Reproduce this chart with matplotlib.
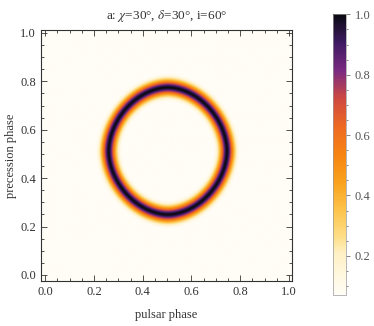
import numpy as np
import matplotlib
matplotlib.use("Agg")
import matplotlib.pyplot as plt
from matplotlib.colors import LinearSegmentedColormap
from matplotlib.ticker import MultipleLocator

plt.rcParams["font.family"] = ["Liberation Serif", "DejaVu Serif"]
plt.rcParams["mathtext.fontset"] = "stix"

# ring (data units: pulsar phase, precession phase)
ring_center = [0.502, 0.510]
ring_semi = [0.243, 0.262]   # half width, half height of the dark ridge
ring_shape = 1.85            # superellipse exponent
ring_sigma = 0.031           # width of the ridge
ring_power = 1.7             # shape of the ridge profile

# colour scale
cb_vals = [0.0, 0.15, 0.2, 0.3, 0.4, 0.5, 0.6, 0.7, 0.8, 0.9, 1.0]
cb_cols = ["#fffdf6", "#fff0c4", "#fee08c", "#fdc44c", "#f9a21e", "#f78412",
           "#ee6a22", "#cf4940", "#7a2a82", "#3e1a62", "#0a0a12"]
vmin, vmax = 0.07, 1.0

cmap = LinearSegmentedColormap.from_list("sunset", list(zip(cb_vals, cb_cols)))

# grid over pulsar phase / precession phase
ph = np.linspace(-0.02, 1.02, 500)
pr = np.linspace(-0.03, 1.02, 500)
PH, PR = np.meshgrid(ph, pr)
u = np.abs(PH - ring_center[0]) / ring_semi[0]
v = np.abs(PR - ring_center[1]) / ring_semi[1]
r = (u ** ring_shape + v ** ring_shape) ** (1 / ring_shape)
dist = (r - 1) * 0.5 * (ring_semi[0] + ring_semi[1])
inten = np.exp(-np.abs(dist / ring_sigma) ** ring_power)

fig = plt.figure(figsize=(3.74, 3.26), dpi=100)
ax = fig.add_axes([0.109, 0.138, 0.671, 0.770])
im = ax.imshow(inten, origin="lower", extent=[ph[0], ph[-1], pr[0], pr[-1]],
               cmap=cmap, vmin=vmin, vmax=vmax, aspect="auto",
               interpolation="bilinear")
ax.set_xlim(-0.018, 1.011)
ax.set_ylim(-0.025, 1.012)

ax.xaxis.set_major_locator(MultipleLocator(0.2))
ax.yaxis.set_major_locator(MultipleLocator(0.2))
ax.xaxis.set_minor_locator(MultipleLocator(0.05))
ax.yaxis.set_minor_locator(MultipleLocator(0.05))
ax.tick_params(which="both", direction="in", top=True, right=True,
               labelsize=9, colors="#333333", width=0.6)
ax.tick_params(which="major", length=4)
ax.tick_params(which="minor", length=2)
for s in ax.spines.values():
    s.set_linewidth(0.8)
    s.set_color("#333333")

ax.set_title(r"a: $\chi$=30°, $\delta$=30°, i=60°", fontsize=9.5, color="#333333", pad=8)
ax.set_xlabel("pulsar phase", fontsize=9, color="#333333", labelpad=8)
ax.set_ylabel("precession phase", fontsize=9, color="#333333", labelpad=2)

cax = fig.add_axes([0.890, 0.095, 0.035, 0.861])
cb = fig.colorbar(im, cax=cax)
cb.set_ticks([0.2, 0.4, 0.6, 0.8, 1.0])
cb.ax.yaxis.set_minor_locator(MultipleLocator(0.05))
cb.ax.tick_params(which="both", direction="out", labelsize=9, colors="#555555", width=0.5)
cb.ax.tick_params(which="major", length=3)
cb.ax.tick_params(which="minor", length=1.5)
cb.outline.set_linewidth(0.5)
cb.outline.set_edgecolor("#999999")

fig.savefig("out.png", dpi=100)
